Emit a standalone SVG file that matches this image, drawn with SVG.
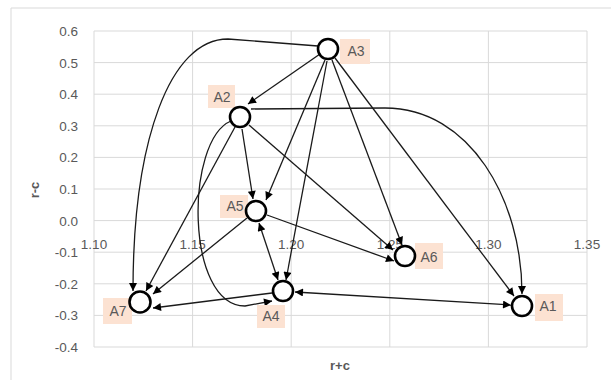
<svg xmlns="http://www.w3.org/2000/svg" width="611" height="380" viewBox="0 0 611 380">
<defs>
<style>
.grid{stroke:#D9D9D9;stroke-width:1;fill:none}
.tick{font-family:"Liberation Sans",Arial,sans-serif;font-size:13.5px;fill:#595959}
.ttl{font-family:"Liberation Sans",Arial,sans-serif;font-size:13px;font-weight:bold;fill:#595959}
.lbox{fill:#FCE2D2}
.ltxt{font-family:"Liberation Sans",Arial,sans-serif;font-size:14px;fill:#595959;text-anchor:middle;dominant-baseline:central}
.node{fill:#fff;stroke:#000;stroke-width:2.6}
.edge{fill:none;stroke:#1a1a1a;stroke-width:1.3;marker-end:url(#arr)}
.both{marker-start:url(#arr)}
</style>
<marker id="arr" viewBox="0 0 10 10" refX="10" refY="5" markerWidth="9" markerHeight="8" markerUnits="userSpaceOnUse" orient="auto-start-reverse"><path d="M0,0 L10,5 L0,10 z" fill="#000"/></marker>
</defs>
<rect width="611" height="380" fill="#fff"/>
<path d="M11,380 V8 H611" stroke="#D9D9D9" stroke-width="1" fill="none"/>
<g id="grid">
<path class="grid" d="M94,31 H587 M94,62.6 H587 M94,94.2 H587 M94,125.8 H587 M94,157.4 H587 M94,189 H587 M94,220.6 H587 M94,252.2 H587 M94,283.8 H587 M94,315.4 H587 M94,347 H587"/>
<path class="grid" d="M94,31 V347 M192.6,31 V347 M291.2,31 V347 M389.8,31 V347 M488.4,31 V347 M587,31 V347"/>
<g class="tick" text-anchor="end">
<text x="78" y="36">0.6</text>
<text x="78" y="67.6">0.5</text>
<text x="78" y="99.2">0.4</text>
<text x="78" y="130.8">0.3</text>
<text x="78" y="162.4">0.2</text>
<text x="78" y="194">0.1</text>
<text x="78" y="225.6">0.0</text>
<text x="78" y="257.2">-0.1</text>
<text x="78" y="288.8">-0.2</text>
<text x="78" y="320.4">-0.3</text>
<text x="78" y="352">-0.4</text>
</g>
<g class="tick" text-anchor="middle">
<text x="94" y="249">1.10</text>
<text x="192.6" y="249">1.15</text>
<text x="291.2" y="249">1.20</text>
<text x="389.8" y="249">1.25</text>
<text x="488.4" y="249">1.30</text>
<text x="587" y="249">1.35</text>
</g>
<text class="ttl" text-anchor="middle" transform="translate(39,190) rotate(-90)">r-c</text>
<text class="ttl" text-anchor="middle" x="340" y="370">r+c</text>
</g>
<g id="connectors">
<path class="edge" d="M320,54 L248,104"/>
<path class="edge" d="M325,60 L266,200"/>
<path class="edge" d="M242,129 L253,199"/>
<path class="edge" d="M327,61 L286,280"/>
<path class="edge both" d="M259,223 L278,280"/>
<path class="edge" d="M332,60 L402,245"/>
<path class="edge" d="M335,58 L514,296"/>
<path class="edge" d="M249,125 L393,250"/>
<path class="edge" d="M267,215 L394,261"/>
<path class="edge" d="M235,127 L146,291"/>
<path class="edge" d="M247,218 L153,294"/>
<path class="edge" d="M272,293 L153,308"/>
<path class="edge both" d="M295,292 L511,305"/>
<path class="edge" d="M251,109 L385,108 C470,108 522,200 522,294"/>
<path class="edge" d="M231,121 C185,140 185,306 245,306 L272,301"/>
<path class="edge" d="M318,46 L228,39 C170,39 133,140 133,291"/>
</g>
<g id="A3"><rect class="lbox" x="340" y="39" width="30" height="25"/><text class="ltxt" x="356" y="51">A3</text><circle class="node" cx="328" cy="49" r="10"/></g>
<g id="A2"><rect class="lbox" x="208" y="85" width="27" height="23"/><text class="ltxt" x="222" y="97">A2</text><circle class="node" cx="240" cy="117" r="10"/></g>
<g id="A5"><rect class="lbox" x="220" y="195" width="28" height="23"/><text class="ltxt" x="235" y="206">A5</text><circle class="node" cx="256" cy="211" r="10"/></g>
<g id="A4"><rect class="lbox" x="257" y="305" width="28" height="23"/><text class="ltxt" x="271" y="316">A4</text><circle class="node" cx="283" cy="291" r="10"/></g>
<g id="A6"><rect class="lbox" x="415" y="243" width="28" height="26"/><text class="ltxt" x="429" y="257">A6</text><circle class="node" cx="405" cy="256" r="10"/></g>
<g id="A1"><rect class="lbox" x="535" y="294" width="28" height="27"/><text class="ltxt" x="548" y="306">A1</text><circle class="node" cx="522" cy="306" r="10"/></g>
<g id="A7"><rect class="lbox" x="103" y="298" width="29" height="26"/><text class="ltxt" x="118" y="311">A7</text><circle class="node" cx="140" cy="302" r="10.5"/></g>
</svg>
